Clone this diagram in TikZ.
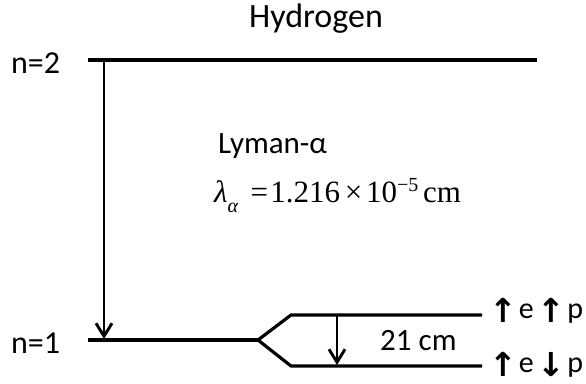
\documentclass[tikz,border=0pt]{standalone}
\usepackage{fontspec}
\setmainfont{Carlito}
\newfontfamily\eqfont{Liberation Serif}
\newfontfamily\arrfont{DejaVu Sans}
\usetikzlibrary{arrows.meta}
\newcommand{\spinarr}[1]{\raisebox{-4pt}{\arrfont\bfseries\fontsize{33}{36}\selectfont #1}}
\begin{document}
\begin{tikzpicture}[x=1pt,y=-1pt,
  level/.style={line width=3.2pt},
  trans/.style={line width=2.9pt,-{Straight Barb[length=13pt,width=16pt,line width=2.9pt]}},
  lbl/.style={inner sep=0pt,anchor=base west,font=\fontsize{31}{36}\selectfont},
  spin/.style={inner sep=0pt,anchor=base west,font=\fontsize{30}{36}\selectfont}]
\useasboundingbox (0,0) rectangle (586,383);
% title
\node[inner sep=0pt,anchor=base,font=\fontsize{34}{40}\selectfont] (title) at (316,27) {Hydrogen};
% level labels
\node[lbl,font=\fontsize{32}{36}\selectfont] (ntwo) at (11,73) {n=2};
\node[lbl,font=\fontsize{32}{36}\selectfont] (none) at (11,353) {n=1};
% coordinates
\coordinate (n2L) at (88,60);
\coordinate (n2R) at (537,60);
\coordinate (n1L) at (88,340);
\coordinate (apex) at (258,340);
\coordinate (upL) at (291,315);
\coordinate (upR) at (482,315);
\coordinate (loL) at (291,366);
\coordinate (loR) at (482,366);
\coordinate (lyTop) at (104,60);
\coordinate (lyBot) at (104,339);
\coordinate (hfTop) at (337,315);
\coordinate (hfBot) at (337,365);
% levels
\draw[level] (n2L) -- (n2R);
\draw[level] (n1L) -- (apex);
\draw[level,line join=miter] (upR) -- (upL) -- (apex) -- (loL) -- (loR);
% transitions
\draw[trans] (lyTop) -- (lyBot);
\draw[trans] (hfTop) -- (hfBot);
% texts
\node[lbl] (lyman) at (218,153) {Lyman-α};
\node[inner sep=0pt,anchor=base west,font=\eqfont\fontsize{31}{34}\selectfont] (eq) at (214,202)
  {{\itshape λ}\raisebox{-10pt}{\fontsize{20}{24}\selectfont\itshape α}\hspace{0.4em}=\hspace{0.08em}1.216\hspace{0.15em}×\hspace{0.12em}10\raisebox{11pt}{\fontsize{20}{24}\selectfont −5}\hspace{0.15em}cm};
\node[lbl] (hf) at (380,350) {21 cm};
\node[spin] (spinA) at (489,318) {\spinarr{↑}\hspace{2pt}e\hspace{4pt}\spinarr{↑}\hspace{2pt}p};
\node[spin] (spinB) at (489,372) {\spinarr{↑}\hspace{2pt}e\hspace{4pt}\spinarr{↓}\hspace{2pt}p};
\end{tikzpicture}
\end{document}
